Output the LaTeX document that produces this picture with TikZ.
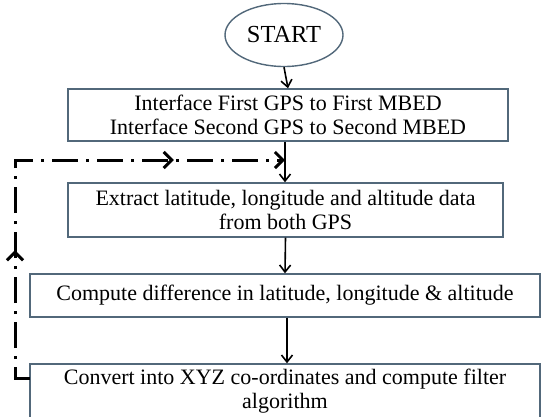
\documentclass[tikz,border=0pt]{standalone}
\usepackage{fontspec}
\setmainfont{Liberation Serif}
\usetikzlibrary{arrows.meta,shapes.geometric,decorations.markings}
\definecolor{boxline}{HTML}{52687A}
\tikzset{loophead/.tip={Straight Barb[length=8pt,width=16pt,line width=3pt]}}
\begin{document}
\begin{tikzpicture}[x=1pt,y=-1pt,
  every node/.style={font=\fontsize{22}{24}\selectfont, align=center, inner sep=0pt},
  box/.style={draw=boxline, line width=1.4pt, rectangle},
  startnode/.style={draw=boxline, line width=1.4pt, ellipse, font=\fontsize{24.5}{26}\selectfont},
  flow/.style={line width=1.6pt, -{Straight Barb[length=7pt,width=11pt,line width=1.6pt]}},
  loopline/.style={line width=3pt, dash pattern=on 26pt off 8pt on 3pt off 8pt,
    -loophead,
    postaction={decorate, decoration={markings,
      mark=at position 0.284 with {\arrow[line width=3pt]{loophead}},
      mark=at position 0.779 with {\arrow[line width=3pt]{loophead}}}}}
]
\useasboundingbox (0,0) rectangle (541,416);
\node[startnode, minimum width=118pt, minimum height=63pt] (s) at (284,35) {START};
\node[box, minimum width=440pt, minimum height=52pt] (b1) at (288,115)
  {Interface First GPS to First MBED\\Interface Second GPS to Second MBED};
\node[box, minimum width=435pt, minimum height=54pt] (b2) at (285.5,210)
  {Extract latitude, longitude and altitude data\\from both GPS};
\node[box, minimum width=510pt, minimum height=43pt] (b3) at (285,295.5)
  {Compute difference in latitude, longitude \& altitude};
\node[box, minimum width=510pt, minimum height=55pt] (b4) at (285,391.5)
  {Convert into XYZ co-ordinates and compute filter\\algorithm};
\draw[flow] (s.south) -- (b1.north);
\draw[flow] ([xshift=-3pt]b1.south) -- ([xshift=-0.5pt]b2.north);
\draw[flow] (b2.south) -- (b3.north);
\draw[flow] ([xshift=2pt]b3.south) -- ([xshift=2pt]b4.north);
\coordinate (lc0) at (30,378);
\coordinate (lc1) at (15,378);
\coordinate (lc2) at (15,160);
\coordinate (lc3) at (285,160);
\draw[loopline] (lc0) -- (lc1) -- (lc2) -- (lc3);
\end{tikzpicture}
\end{document}
